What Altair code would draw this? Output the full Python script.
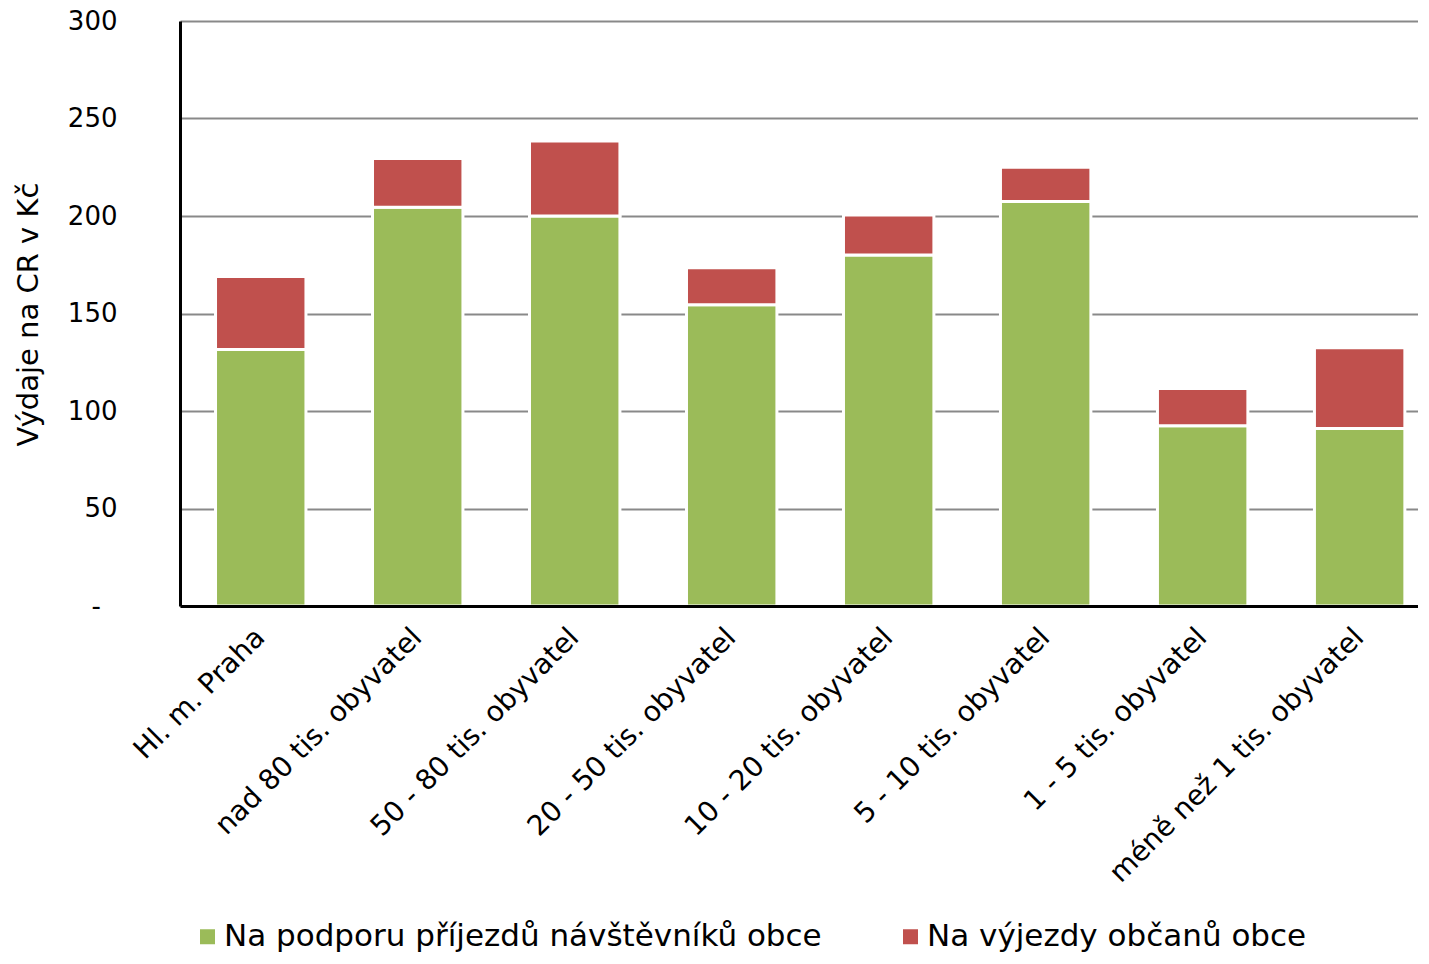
import altair as alt
import pandas as pd

categories = [
    "Hl. m. Praha",
    "nad 80 tis. obyvatel",
    "50 - 80 tis. obyvatel",
    "20 - 50 tis. obyvatel",
    "10 - 20 tis. obyvatel",
    "5 - 10 tis. obyvatel",
    "1 - 5 tis. obyvatel",
    "méně než 1 tis. obyvatel",
]
series = ["Na podporu příjezdů návštěvníků obce", "Na výjezdy občanů obce"]
prijezdy = [131.5, 204.5, 200.0, 154.5, 180.0, 207.5, 92.5, 91.0]
vyjezdy = [37.5, 25.0, 38.5, 19.0, 20.5, 17.5, 19.0, 41.5]
y_ticks = [0, 50, 100, 150, 200, 250, 300]
colors = ["#9BBB59", "#C0504D"]

rows = []
for i, c in enumerate(categories):
    rows.append({"kategorie": c, "serie": series[0], "hodnota": prijezdy[i], "poradi": 0})
    rows.append({"kategorie": c, "serie": series[1], "hodnota": vyjezdy[i], "poradi": 1})
df = pd.DataFrame(rows)

FONT = "DejaVu Sans"
PAD = "\u00a0\u00a0\u200b"

chart = alt.Chart(df).mark_bar(stroke="white", strokeWidth=3).encode(
    x=alt.X(
        "kategorie:N",
        sort=categories,
        scale=alt.Scale(paddingInner=0.424, paddingOuter=0.155, align=0.73),
        axis=alt.Axis(
            title=None,
            labelAngle=-45,
            labelAlign="right",
            labelBaseline="middle",
            labelPadding=27,
            ticks=False,
            domainColor="black",
            domainWidth=3,
            labelFont=FONT,
            labelFontSize=28,
            labelColor="black",
            labelLimit=800,
            zindex=1,
        ),
    ),
    y=alt.Y(
        "hodnota:Q",
        stack="zero",
        scale=alt.Scale(domain=[0, 300], nice=False),
        axis=alt.Axis(
            values=y_ticks,
            title="Výdaje na CR v Kč",
            titleFont=FONT,
            titleFontSize=29,
            titleFontWeight="normal",
            titleColor="black",
            titleX=-152,
            titleY=293,
            titleAlign="center",
            titleBaseline="middle",
            grid=True,
            gridColor="#898989",
            gridWidth=2,
            domainColor="black",
            domainWidth=3,
            ticks=False,
            labelPadding=63,
            labelFont=FONT,
            labelFontSize=26,
            labelColor="black",
            labelExpr="datum.value === 0 ? '-" + PAD + "' : datum.label",
        ),
    ),
    color=alt.Color(
        "serie:N",
        scale=alt.Scale(domain=series, range=colors),
        legend=alt.Legend(
            orient="none",
            legendX=12,
            legendY=900,
            direction="horizontal",
            title=None,
            symbolType="square",
            symbolSize=225,
            symbolStrokeWidth=0,
            labelFont=FONT,
            labelFontSize=31,
            labelColor="black",
            labelLimit=1000,
            labelOffset=1,
            columnPadding=73,
            padding=0,
        ),
    ),
    order=alt.Order("poradi:Q"),
).properties(
    width=1238,
    height=585,
    autosize=alt.AutoSizeParams(type="none"),
    padding={"left": 172, "top": 13, "right": 0, "bottom": 350},
).configure_view(strokeWidth=0)

chart.save("out.html", embed_options={"renderer": "svg", "actions": False})
